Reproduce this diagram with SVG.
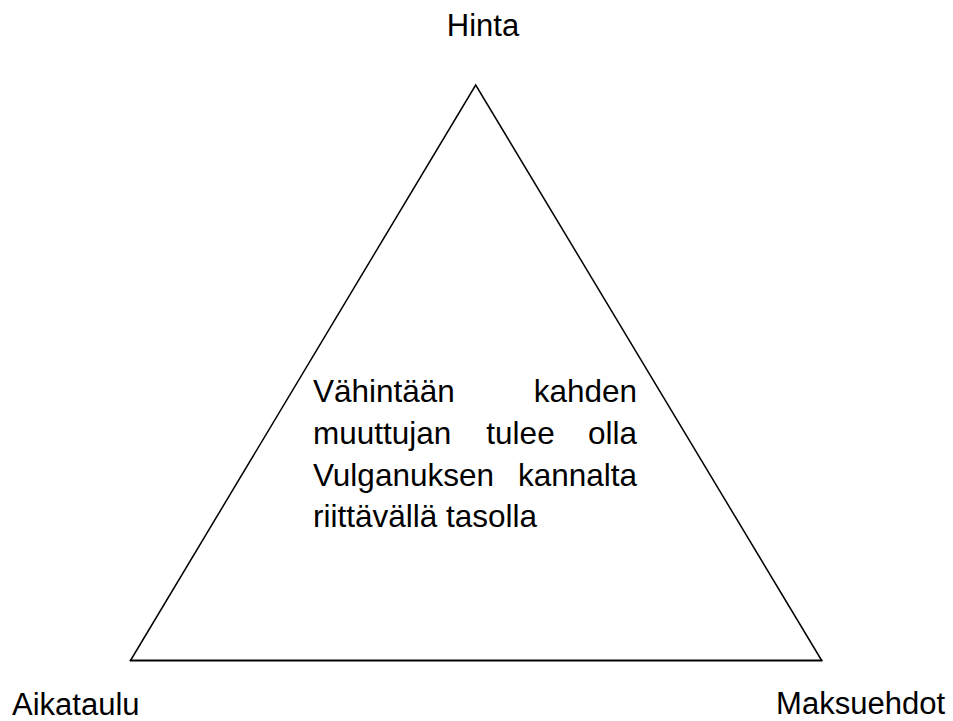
<svg xmlns="http://www.w3.org/2000/svg" width="953" height="721" viewBox="0 0 953 721">
<style>
text{font-family:"Liberation Sans",Arial,sans-serif;font-size:31px;fill:#000}
.b{font-size:31.5px}
.e{text-anchor:end}
.m{text-anchor:middle}
.ln{stroke:#000;fill:none;stroke-linecap:round;stroke-linejoin:miter}
</style>
<rect width="953" height="721" fill="#fff"/>
<g id="connectors">
<path class="ln" d="M130.5 660.5 L475.7 85 L821.7 660.5" stroke-width="1.5"/>
<path class="ln" d="M130.5 660.5 L821.7 660.5" stroke-width="2"/>
</g>
<g id="node-hinta"><text x="483" y="36" class="m">Hinta</text></g>
<g id="node-aikataulu"><text x="12" y="715">Aikataulu</text></g>
<g id="node-maksuehdot"><text x="945" y="714" class="e">Maksuehdot</text></g>
<g id="node-center" class="b">
<text x="313" y="402" class="b">Vähintään</text><text x="637" y="402" class="b e">kahden</text>
<text x="313" y="444" class="b">muuttujan</text><text x="520.5" y="444" class="b m">tulee</text><text x="637" y="444" class="b e">olla</text>
<text x="313" y="486" class="b">Vulganuksen</text><text x="637" y="486" class="b e">kannalta</text>
<text x="313" y="527" class="b">riittävällä tasolla</text>
</g>
</svg>
